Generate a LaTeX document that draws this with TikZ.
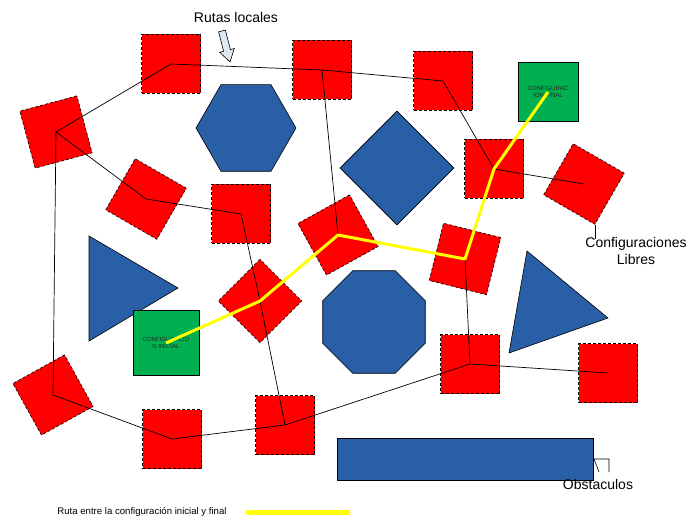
\documentclass[tikz,border=0pt]{standalone}
\usepackage{fontspec}
\setmainfont{Liberation Sans}
\usetikzlibrary{shapes.geometric}
\definecolor{obst}{RGB}{41,95,166}
\definecolor{libre}{RGB}{255,0,0}
\definecolor{cfg}{RGB}{0,176,80}
\definecolor{ruta}{RGB}{255,255,0}
\definecolor{arrowfill}{RGB}{222,232,243}
\tikzset{
  freesq/.style={rectangle, draw=black, fill=libre, line width=0.6pt, dash pattern=on 3pt off 2pt, minimum size=59pt, inner sep=0pt},
  cfgbox/.style={rectangle, draw=black, fill=cfg, line width=1pt, inner sep=0pt, align=center, font=\fontsize{6}{7}\selectfont, text=black!85},
  obstacle/.style={draw=black, fill=obst, line width=0.6pt, inner sep=0pt},
  localpath/.style={draw=black, line width=0.7pt},
  routepath/.style={draw=ruta, line width=3pt, line join=round},
  lbl/.style={font=\fontsize{14}{17}\selectfont, align=center, inner sep=0pt},
  smalllbl/.style={font=\fontsize{9.6}{11}\selectfont, inner sep=0pt},
}
\begin{document}
\begin{tikzpicture}[x=1pt,y=-1pt]
\useasboundingbox (0,0) rectangle (687,518);

% obstacles
\node[obstacle, regular polygon, regular polygon sides=6, minimum size=100pt] (hex) at (246,128) {};
\node[obstacle, regular polygon, regular polygon sides=8, minimum size=111pt] (oct) at (374,322) {};
\node[obstacle, diamond, aspect=1, minimum width=114pt, minimum height=114pt] (dia) at (397,168) {};
\draw[obstacle] (89,236) coordinate (tla) -- (178,288) coordinate (tlb) -- (89,341) coordinate (tlc) -- cycle;
\draw[obstacle] (527,251) coordinate (tra) -- (608,318) coordinate (trb) -- (509,353) coordinate (trc) -- cycle;
\node[obstacle, rectangle, minimum width=256pt, minimum height=42pt] (bar) at (465,459) {};

% free configurations
\node[freesq] (s1) at (171,64) {};
\node[freesq] (s2) at (322,70) {};
\node[freesq] (s3) at (443,81) {};
\node[freesq] (s4) at (494,169) {};
\node[freesq] (s5) at (241,214) {};
\node[freesq] (s6) at (470,364) {};
\node[freesq] (s7) at (608,373) {};
\node[freesq] (s8) at (172,439) {};
\node[freesq] (s9) at (285,425) {};
\node[freesq, rotate=15] (s10) at (56,132) {};
\node[freesq, rotate=-30] (s11) at (146,199) {};
\node[freesq, rotate=-30] (s12) at (584,184) {};
\node[freesq, rotate=29] (s13) at (338,235) {};
\node[freesq, rotate=-14] (s14) at (465,259) {};
\node[freesq, rotate=45] (s15) at (260,301) {};
\node[freesq, rotate=29] (s16) at (53,395) {};

% initial / final configurations
\node[cfgbox, minimum width=60pt, minimum height=59pt] (fin) at (548,92) {CONFIGURAC\\ION FINAL};
\node[cfgbox, minimum width=66pt, minimum height=65pt] (ini) at (166,343) {CONFIGURACIO\\N INICIAL};

% local routes
\draw[localpath] (s10.center) -- (s1.center) -- (s2.center) -- (s3.center) -- (s4.center) -- (s12.center);
\draw[localpath] (s2.center) -- (s13.center);
\draw[localpath] (s10.center) -- (s11.center) -- (s5.center) -- (s15.center) -- (s9.center);
\draw[localpath] (s10.center) -- (s16.center) -- (s8.center) -- (s9.center) -- (s6.center) -- (s7.center);
\draw[localpath] (s6.center) -- (s14.center);

% route between initial and final configuration
\draw[routepath] (ini.center) -- (s15.center) -- (s13.center) -- (s14.center) -- (s4.center) -- (fin.center);

% labels
\node[lbl] (rl) at (236,18) {Rutas locales};
\draw[fill=arrowfill, line width=0.6pt, line join=miter]
  (225.4,30.1) -- (230.4,49.5) -- (234.3,48.5) -- (230,62) coordinate (rlt) -- (219.7,52.3) -- (223.6,51.3) -- (218.6,31.9) -- cycle;

\node[lbl] (cl) at (636,251) {Configuraciones\\Libres};
\draw[line width=0.6pt] (s12.south east) -- ++(0,14) coordinate (clt);

\node[lbl] (ob) at (598,484) {Obstaculos};
\draw[line width=0.6pt] (609,472) coordinate (oba) -- (609,459) -- (594,459) -- (599,472) coordinate (obb);

\node[smalllbl] (leg) at (142,512) {Ruta entre la configuración inicial y final};
\coordinate (lga) at (248,512);
\coordinate (lgb) at (348,512);
\draw[draw=ruta, line width=5pt, line cap=round] (lga) -- (lgb);
\end{tikzpicture}
\end{document}
